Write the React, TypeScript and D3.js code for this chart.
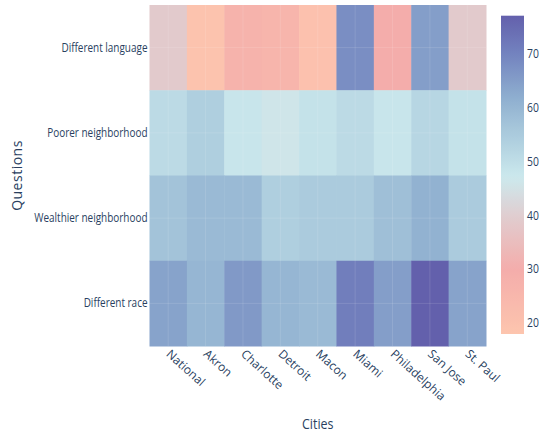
import React from "react";
import * as d3 from "d3";

const cities = ["National", "Akron", "Charlotte", "Detroit", "Macon", "Miami", "Philadelphia", "San Jose", "St. Paul"];
const questions = ["Different language", "Poorer neighborhood", "Wealthier neighborhood", "Different race"];

const differentLanguage = [39, 19, 27, 26, 20, 68, 30, 65, 39];
const poorerNeighborhood = [51, 54, 48, 46, 49, 51, 48, 52, 49];
const wealthierNeighborhood = [57, 59, 59, 54, 55, 55, 58, 61, 55];
const differentRace = [64, 60, 66, 60, 59, 71, 65, 77, 64];
const rows = [differentLanguage, poorerNeighborhood, wealthierNeighborhood, differentRace];

const colorStops = [18, 30, 40, 47, 55, 62, 70, 77.1];
const colorValues = ["#fdc5ae", "#f4adab", "#e0cdd0", "#cce9ed", "#abcbdd", "#8eaecf", "#7383bf", "#6360ac"];
const colorTicks = [20, 30, 40, 50, 60, 70];

const W = 546, H = 436;
const plot = { left: 149.5, right: 486, top: 5, bottom: 346 };
const cb = { left: 501, right: 524, top: 15.7, bottom: 334 };
const textColor = "#2a3f5f";
const font = "'Open Sans', 'Noto Sans', sans-serif";
const SQ = 0.83;

export default function App() {
  const x = d3.scaleBand<string>().domain(cities).range([plot.left, plot.right]);
  const y = d3.scaleBand<string>().domain(questions).range([plot.top, plot.bottom]);
  const color = d3.scaleLinear<string>().domain(colorStops).range(colorValues).interpolate(d3.interpolateRgb).clamp(true);
  const cbY = d3.scaleLinear().domain([colorStops[0], colorStops[colorStops.length - 1]]).range([cb.bottom, cb.top]);
  const gradStops = d3.range(0, 1.0001, 0.02);
  const vmin = colorStops[0], vmax = colorStops[colorStops.length - 1];

  return (
    <svg width={W} height={H} style={{ display: "block", position: "absolute", left: 0, top: 0, background: "#fff" }} fontFamily={font}>
      <defs>
        <linearGradient id="cbgrad" x1="0" y1="1" x2="0" y2="0">
          {gradStops.map((t, i) => (
            <stop key={i} offset={t} stopColor={color(vmin + t * (vmax - vmin))} />
          ))}
        </linearGradient>
      </defs>
      {rows.map((vals, ri) =>
        vals.map((v, ci) => (
          <rect key={`${ri}-${ci}`} x={x(cities[ci])} y={y(questions[ri])} width={x.bandwidth() + 0.5} height={y.bandwidth() + 0.5} fill={color(v)} />
        ))
      )}
      {cities.map((c) => (
        <line key={c} x1={x(c)! + x.bandwidth() / 2} x2={x(c)! + x.bandwidth() / 2} y1={plot.top} y2={plot.bottom} stroke="#fff" strokeOpacity={0.12} />
      ))}
      {questions.map((q) => (
        <line key={q} y1={y(q)! + y.bandwidth() / 2} y2={y(q)! + y.bandwidth() / 2} x1={plot.left} x2={plot.right} stroke="#fff" strokeOpacity={0.12} />
      ))}
      {questions.map((q) => (
        <text key={q} transform={`translate(${plot.left - 2},${y(q)! + y.bandwidth() / 2 + 4}) scale(${SQ},1)`} textAnchor="end" fontSize={12} fill={textColor}>
          {q}
        </text>
      ))}
      {cities.map((c) => (
        <text key={c} transform={`translate(${x(c)! + x.bandwidth() / 2},${plot.bottom + 6}) rotate(42)`} textAnchor="start" fontSize={12} fill={textColor} dy="0.35em">
          {c}
        </text>
      ))}
      <text transform={`translate(${(plot.left + plot.right) / 2},429) scale(${SQ},1)`} textAnchor="middle" fontSize={15} fill={textColor}>Cities</text>
      <text transform={`translate(22,${(plot.top + plot.bottom) / 2}) rotate(-90)`} textAnchor="middle" fontSize={14} fill={textColor} style={{ letterSpacing: "0.5px" }}>Questions</text>
      <rect x={cb.left} y={cb.top} width={cb.right - cb.left} height={cb.bottom - cb.top} fill="url(#cbgrad)" />
      {colorTicks.map((t) => (
        <text key={t} transform={`translate(${cb.right + 3},${cbY(t) + 4}) scale(${SQ},1)`} fontSize={12.5} fill={textColor}>{t}</text>
      ))}
    </svg>
  );
}
